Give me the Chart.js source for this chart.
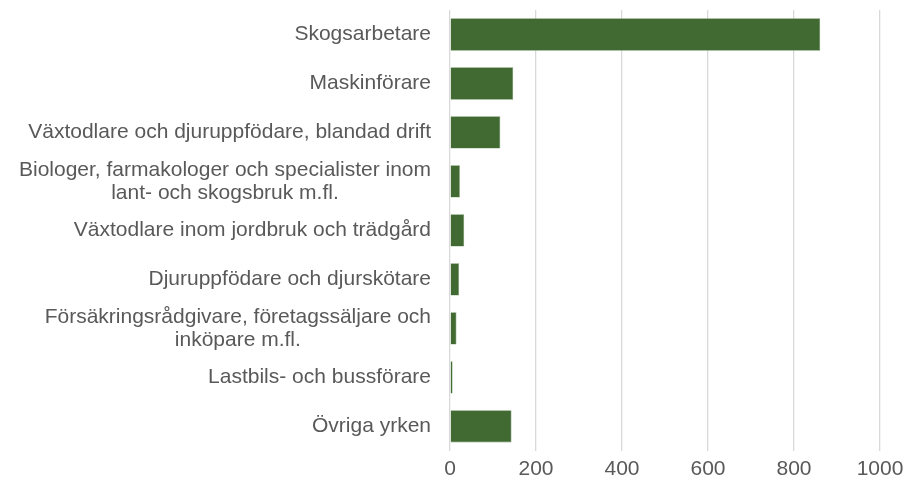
<!DOCTYPE html>
<html>
<head>
<meta charset="utf-8">
<script src="https://cdn.jsdelivr.net/npm/chart.js@4/dist/chart.umd.min.js"></script>
<style>
  html, body { margin: 0; padding: 0; background: #fff; }
  #wrap { width: 906px; height: 488px; }
</style>
</head>
<body>
<div id="wrap"><canvas id="chartYrken"></canvas></div>
<script>
const yrken = [
  'Skogsarbetare',
  'Maskinförare',
  'Växtodlare och djuruppfödare, blandad drift',
  ['Biologer, farmakologer och specialister inom', 'lant- och skogsbruk m.fl.'],
  'Växtodlare inom jordbruk och trädgård',
  'Djuruppfödare och djurskötare',
  ['Försäkringsrådgivare, företagssäljare och', 'inköpare m.fl.'],
  'Lastbils- och bussförare',
  'Övriga yrken'
];
const antal = [861, 147, 117, 23, 33, 21, 15, 6, 143];
const xTicks = [0, 200, 400, 600, 800, 1000];

const textColor = '#595959';
const fontFamily = "'Liberation Sans', Arial, sans-serif";
const labelSize = 21;

const chartElement = document.getElementById('chartYrken');

// y labels: single lines right aligned, wrapped lines centred on each other (Excel style)
const yLabelPlugin = {
  id: 'yLabels',
  afterDraw: function (chart) {
    const ctx = chart.ctx;
    const yScale = chart.scales.y;
    const right = chart.chartArea.left - 19;
    const lineH = labelSize * 1.1;
    ctx.save();
    ctx.font = labelSize + 'px ' + fontFamily;
    ctx.fillStyle = textColor;
    ctx.textBaseline = 'middle';
    yScale.ticks.forEach(function (tick, i) {
      const lbl = chart.data.labels[tick.value];
      const lines = Array.isArray(lbl) ? lbl : [lbl];
      const y = yScale.getPixelForTick(i);
      const widest = Math.max.apply(null, lines.map(l => ctx.measureText(l).width));
      lines.forEach(function (line, j) {
        const ly = y + (j - (lines.length - 1) / 2) * lineH;
        if (lines.length > 1) {
          ctx.textAlign = 'center';
          ctx.fillText(line, right - widest / 2, ly);
        } else {
          ctx.textAlign = 'right';
          ctx.fillText(line, right, ly);
        }
      });
    });
    ctx.restore();
  }
};

var config = {
  type: 'bar',
  data: {
    labels: yrken,
    datasets: [
      {
        data: antal,
        backgroundColor: '#416a32',
        borderColor: '#6e8f60',
        borderWidth: 0.6,
        barPercentage: 0.66,
        categoryPercentage: 1
      }
    ]
  },
  options: {
    indexAxis: 'y',
    responsive: true,
    maintainAspectRatio: false,
    animation: false,
    layout: {
      padding: { top: 10, right: 26, bottom: 0, left: 0 }
    },
    scales: {
      x: {
        min: 0,
        max: 1000,
        afterBuildTicks: function (axis) {
          axis.ticks = xTicks.map(v => ({ value: v }));
        },
        afterFit: function (axis) {
          axis.paddingLeft = 0;
          axis.paddingRight = 0;
        },
        grid: {
          color: '#d9d9d9',
          lineWidth: 1.3,
          drawTicks: false
        },
        border: { display: false },
        ticks: {
          color: textColor,
          padding: 6,
          maxRotation: 0,
          font: { family: fontFamily, size: labelSize },
          callback: function (value) {
            return String(value);
          }
        }
      },
      y: {
        grid: { display: false, drawTicks: false },
        border: { display: false },
        afterFit: function (axis) {
          axis.width = 450;
          axis.paddingTop = 0;
          axis.paddingBottom = 0;
        },
        ticks: {
          display: false,
          autoSkip: false
        }
      }
    },
    plugins: {
      legend: { display: false },
      tooltip: { enabled: false }
    }
  },
  plugins: [yLabelPlugin]
};

var chart = new Chart(chartElement, config);
</script>
</body>
</html>
